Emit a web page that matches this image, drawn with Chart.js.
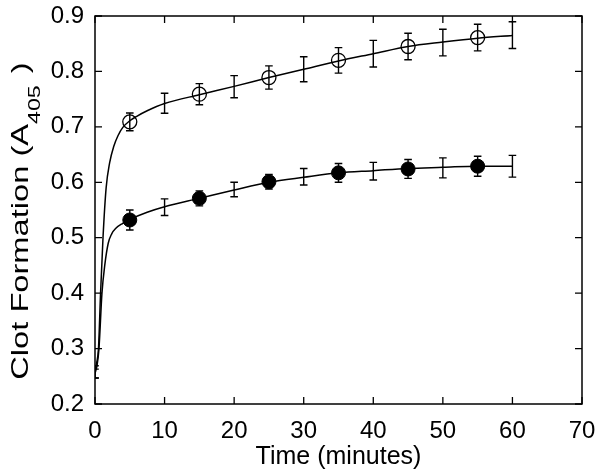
<!DOCTYPE html>
<html>
<head>
<meta charset="utf-8">
<script src="https://cdn.jsdelivr.net/npm/chart.js@4"></script>
<style>
html,body{margin:0;padding:0;background:#fff;}
#wrap{width:600px;height:474px;}
</style>
</head>
<body>
<div id="wrap"><canvas id="c" width="600" height="474"></canvas></div>
<script>
// ---- data ----
const xTickValues = [0, 10, 20, 30, 40, 50, 60, 70];
const yTickValues = [0.2, 0.3, 0.4, 0.5, 0.6, 0.7, 0.8, 0.9];

// fitted curves
const openCurveX   = [0, 0.25, 0.5, 0.8, 1.15, 1.6, 2.1, 2.7, 3.3, 4, 5, 6, 7.5, 10, 15, 20, 25, 30, 35, 40, 45, 50, 55, 60];
const openCurveY   = [0.258, 0.275, 0.30, 0.40, 0.50, 0.59, 0.635, 0.665, 0.684, 0.699, 0.711, 0.719, 0.729, 0.742, 0.758, 0.773, 0.789, 0.804, 0.819, 0.832, 0.845, 0.853, 0.860, 0.865];
const filledCurveX = [0, 0.3, 0.57, 1.0, 1.4, 1.9, 2.4, 3.0, 4.0, 5, 7.5, 10, 15, 20, 25, 30, 35, 40, 45, 50, 55, 60];
const filledCurveY = [0.255, 0.27, 0.30, 0.40, 0.45, 0.49, 0.507, 0.517, 0.526, 0.533, 0.546, 0.556, 0.571, 0.586, 0.600, 0.609, 0.617, 0.621, 0.625, 0.627, 0.629, 0.629];

// markers
const markerX      = [5, 15, 25, 35, 45, 55];
const openMarkers  = [0.709, 0.759, 0.789, 0.820, 0.845, 0.861];
const filledMarkers= [0.532, 0.571, 0.601, 0.617, 0.624, 0.629];

// error bars
const errX       = [0, 5, 10, 15, 20, 25, 30, 35, 40, 45, 50, 55, 60];
const openMean   = [0.258, 0.709, 0.7425, 0.759, 0.7725, 0.789, 0.804, 0.820, 0.832, 0.845, 0.852, 0.861, 0.8655];
const openErr    = [0.011, 0.016, 0.018, 0.019, 0.020, 0.021, 0.0225, 0.023, 0.024, 0.024, 0.024, 0.024, 0.024];
const filledMean = [0.255, 0.532, 0.555, 0.571, 0.587, 0.601, 0.610, 0.617, 0.620, 0.624, 0.626, 0.629, 0.629];
const filledErr  = [0.008, 0.018, 0.015, 0.0135, 0.013, 0.013, 0.015, 0.017, 0.016, 0.017, 0.018, 0.018, 0.0196];

const xTitle = 'Time (minutes)';
const yTitleMain = 'Clot Formation (A';
const yTitleSub = '405';
const yTitleEnd = ')';

const FONT = '"Liberation Sans", Arial, Helvetica, sans-serif';
const TICK_PX = 24;

function pts(xs, ys){ return xs.map((x,i)=>({x:x, y:ys[i]})); }

const errorBarPlugin = {
  id: 'errorBars',
  afterDatasetsDraw(chart){
    const {ctx, chartArea, scales:{x, y}} = chart;
    ctx.save();
    ctx.beginPath();
    ctx.rect(chartArea.left, chartArea.top, chartArea.right-chartArea.left, chartArea.bottom-chartArea.top);
    ctx.clip();
    ctx.strokeStyle = '#000';
    ctx.lineWidth = 1.4;
    const cap = 3.8;
    [[openMean, openErr],[filledMean, filledErr]].forEach(([m,e])=>{
      errX.forEach((xv,i)=>{
        const px = x.getPixelForValue(xv);
        const top = y.getPixelForValue(m[i]+e[i]);
        const bot = y.getPixelForValue(m[i]-e[i]);
        ctx.beginPath();
        ctx.moveTo(px, top); ctx.lineTo(px, bot);
        ctx.moveTo(px-cap, top); ctx.lineTo(px+cap, top);
        ctx.moveTo(px-cap, bot); ctx.lineTo(px+cap, bot);
        ctx.stroke();
      });
    });
    ctx.restore();
  }
};

const framePlugin = {
  id: 'frame',
  afterDraw(chart){
    const {ctx, chartArea:a, scales:{x, y}} = chart;
    ctx.save();
    ctx.strokeStyle = '#000';
    ctx.lineWidth = 1.5;
    ctx.strokeRect(a.left, a.top, a.right-a.left, a.bottom-a.top);
    const tl = 7;
    ctx.lineWidth = 1.3;
    ctx.beginPath();
    xTickValues.forEach(v=>{
      const px = x.getPixelForValue(v);
      ctx.moveTo(px, a.bottom); ctx.lineTo(px, a.bottom-tl);
      ctx.moveTo(px, a.top); ctx.lineTo(px, a.top+tl);
    });
    yTickValues.forEach(v=>{
      const py = y.getPixelForValue(v);
      ctx.moveTo(a.left, py); ctx.lineTo(a.left+tl, py);
      ctx.moveTo(a.right, py); ctx.lineTo(a.right-tl, py);
    });
    ctx.stroke();
    // x axis title
    ctx.fillStyle = '#000';
    ctx.font = '25px ' + FONT;
    ctx.textAlign = 'center';
    ctx.textBaseline = 'alphabetic';
    ctx.fillText(xTitle, (a.left+a.right)/2, 464);
    // y axis title, rotated, with subscript
    ctx.save();
    ctx.translate(28, 221);
    ctx.rotate(-Math.PI/2);
    ctx.scale(1.36, 1);
    ctx.textAlign = 'left';
    const mainFont = TICK_PX + 'px ' + FONT;
    const subFont = '17px ' + FONT;
    ctx.font = mainFont;
    const w1 = ctx.measureText(yTitleMain).width;
    const w3 = ctx.measureText(yTitleEnd).width;
    ctx.font = subFont;
    const w2 = ctx.measureText(yTitleSub).width;
    const gap = 9;
    const total = w1 + w2 + gap + w3;
    let sx = -total/2;
    ctx.font = mainFont;
    ctx.fillText(yTitleMain, sx, 0); sx += w1;
    ctx.font = subFont;
    ctx.fillText(yTitleSub, sx, 12); sx += w2 + gap;
    ctx.font = mainFont;
    ctx.fillText(yTitleEnd, sx, 0);
    ctx.restore();
    ctx.restore();
  }
};

new Chart(document.getElementById('c'), {
  type: 'scatter',
  data: {
    datasets: [
      { type:'line', data: pts(openCurveX, openCurveY), borderColor:'#000', borderWidth:1.5,
        pointRadius:0, fill:false, cubicInterpolationMode:'monotone', order:3 },
      { type:'line', data: pts(filledCurveX, filledCurveY), borderColor:'#000', borderWidth:1.5,
        pointRadius:0, fill:false, cubicInterpolationMode:'monotone', order:3 },
      { type:'scatter', data: pts(markerX, openMarkers), pointRadius:7, pointBorderWidth:1.3,
        pointBorderColor:'#000', pointBackgroundColor:'rgba(0,0,0,0)', order:1 },
      { type:'scatter', data: pts(markerX, filledMarkers), pointRadius:7, pointBorderWidth:1,
        pointBorderColor:'#000', pointBackgroundColor:'#000', order:1 }
    ]
  },
  options: {
    responsive:false,
    animation:false,
    events:[],
    layout:{ padding:{ top:16, right:18, left:0, bottom:0 } },
    plugins:{ legend:{display:false}, tooltip:{enabled:false} },
    scales:{
      x:{
        type:'linear', min:0, max:70,
        afterBuildTicks(s){ s.ticks = xTickValues.map(v=>({value:v})); },
        afterFit(s){ s.height = 70; s.paddingLeft = 0; s.paddingRight = 0; },
        grid:{ display:false, drawTicks:false },
        border:{ display:false },
        ticks:{ padding:13, color:'#000', font:{ family:FONT, size:TICK_PX }, maxRotation:0,
                callback:(v)=>String(v) }
      },
      y:{
        type:'linear', min:0.2, max:0.9,
        afterBuildTicks(s){ s.ticks = yTickValues.map(v=>({value:v})); },
        afterFit(s){ s.width = 95; s.paddingTop = 0; s.paddingBottom = 0; },
        grid:{ display:false, drawTicks:false },
        border:{ display:false },
        ticks:{ padding:11, color:'#000', font:{ family:FONT, size:TICK_PX },
                callback:(v)=>Number(v).toFixed(1) }
      }
    }
  },
  plugins:[errorBarPlugin, framePlugin]
});
</script>
</body>
</html>
